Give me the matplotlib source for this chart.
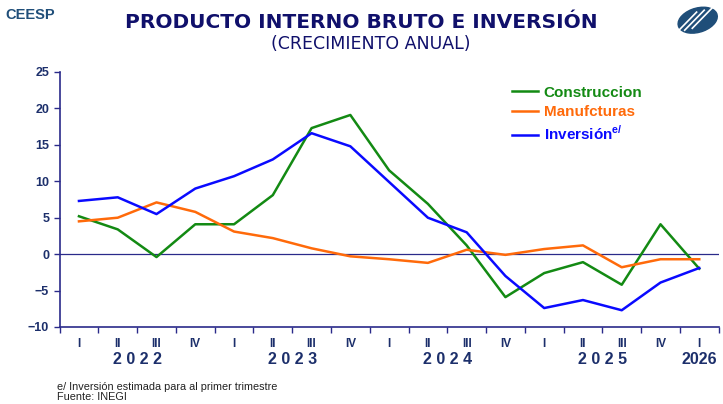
import matplotlib
matplotlib.use("Agg")
import matplotlib.pyplot as plt
from matplotlib.patches import Ellipse
from matplotlib.transforms import blended_transform_factory

plt.rcParams['font.family'] = ['Liberation Sans', 'DejaVu Sans']

# quarters from I-2022 to I-2026
quarters = ['I', 'II', 'III', 'IV', 'I', 'II', 'III', 'IV', 'I', 'II', 'III', 'IV',
            'I', 'II', 'III', 'IV', 'I']
years = ['2 0 2 2', '2 0 2 3', '2 0 2 4', '2 0 2 5', '2026']
year_pos = [1.5, 5.5, 9.5, 13.5, 16]

construccion = [5.2, 3.4, -0.4, 4.1, 4.1, 8.1, 17.3, 19.1, 11.5, 6.9, 1.2, -5.9,
                -2.6, -1.1, -4.2, 4.1, -2.0]
manufacturas = [4.5, 5.0, 7.1, 5.8, 3.1, 2.2, 0.8, -0.3, -0.7, -1.2, 0.6, -0.1,
                0.7, 1.2, -1.8, -0.7, -0.7]
inversion = [7.3, 7.8, 5.5, 9.0, 10.7, 13.0, 16.6, 14.8, 9.9, 5.0, 3.0, -3.0,
             -7.4, -6.3, -7.7, -3.9, -1.9]

navy = '#1c2f6b'
axis_col = '#2a2a8a'

fig = plt.figure(figsize=(7.23, 4.04), dpi=100)
ax = fig.add_axes([0.0824, 0.1906, 0.9116, 0.6312])

x = list(range(len(quarters)))
ax.plot(x, construccion, color='#138a13', lw=1.8, label='Construccion')
ax.plot(x, manufacturas, color='#ff6a0a', lw=1.8, label='Manufcturas')
ax.plot(x, inversion, color='#0a0aff', lw=1.8, label='Inversión$^{\\mathregular{e/}}$')
ax.axhline(0, color=axis_col, lw=0.9, zorder=1)

ax.set_xlim(-0.5, 16.5)
ax.set_ylim(-10, 25)
ax.set_yticks(range(-10, 30, 5))
ax.set_xticks(x)
ax.set_xticklabels(quarters)
ax.set_xticks([i - 0.5 for i in range(len(quarters) + 1)], minor=True)
ax.tick_params(axis='x', which='major', length=0, pad=8, labelsize=8.5, labelcolor=navy)
ax.tick_params(axis='x', which='minor', length=4, color=axis_col, width=1)
ax.tick_params(axis='y', length=4, color=axis_col, width=1, labelsize=9, labelcolor=navy)
for lab in ax.get_xticklabels() + ax.get_yticklabels():
    lab.set_fontweight('bold')

for s in ['top', 'right']:
    ax.spines[s].set_visible(False)
for s in ['left', 'bottom']:
    ax.spines[s].set_color(axis_col)
    ax.spines[s].set_linewidth(1.2)

trans = blended_transform_factory(ax.transData, fig.transFigure)
for yr, pos in zip(years, year_pos):
    ax.text(pos, 0.11, yr, transform=trans, ha='center', va='center',
            fontsize=11.5, fontweight='bold', color=navy)

leg = ax.legend(loc='upper left', bbox_to_anchor=(0.665, 1.0), frameon=False,
                labelcolor='linecolor', handlelength=1.7, handletextpad=0.4,
                labelspacing=0.35, prop={'weight': 'bold', 'size': 11})

# titles
fig.text(0.5, 0.945, 'PRODUCTO INTERNO BRUTO E INVERSIÓN', ha='center', va='center',
         fontsize=14.5, fontweight='bold', color='#10106b',
         family=['DejaVu Sans'])
fig.text(0.513, 0.89, '(CRECIMIENTO ANUAL)', ha='center', va='center',
         fontsize=12.5, color='#10106b', family=['DejaVu Sans'])
fig.text(0.007, 0.963, 'CEESP', ha='left', va='center', fontsize=10.5,
         fontweight='bold', color='#1f4e79')

# logo
lax = fig.add_axes([0.935, 0.905, 0.06, 0.09])
lax.set_xlim(-1, 1)
lax.set_ylim(-1, 1)
lax.axis('off')
lax.add_patch(Ellipse((0, 0), 1.9, 1.3, angle=25, color='#1f4e79'))
for off in (-0.35, 0.0, 0.35):
    lax.plot([-0.6 + off, 0.3 + off], [-0.55 + off * 0.3, 0.55 + off * 0.3],
             color='white', lw=1.2)

fig.text(0.079, 0.042, 'e/ Inversión estimada para al primer trimestre', fontsize=7.8,
         color='#222222', va='center')
fig.text(0.079, 0.017, 'Fuente: INEGI', fontsize=7.8, color='#222222', va='center')

fig.savefig('out.png', dpi=100)
